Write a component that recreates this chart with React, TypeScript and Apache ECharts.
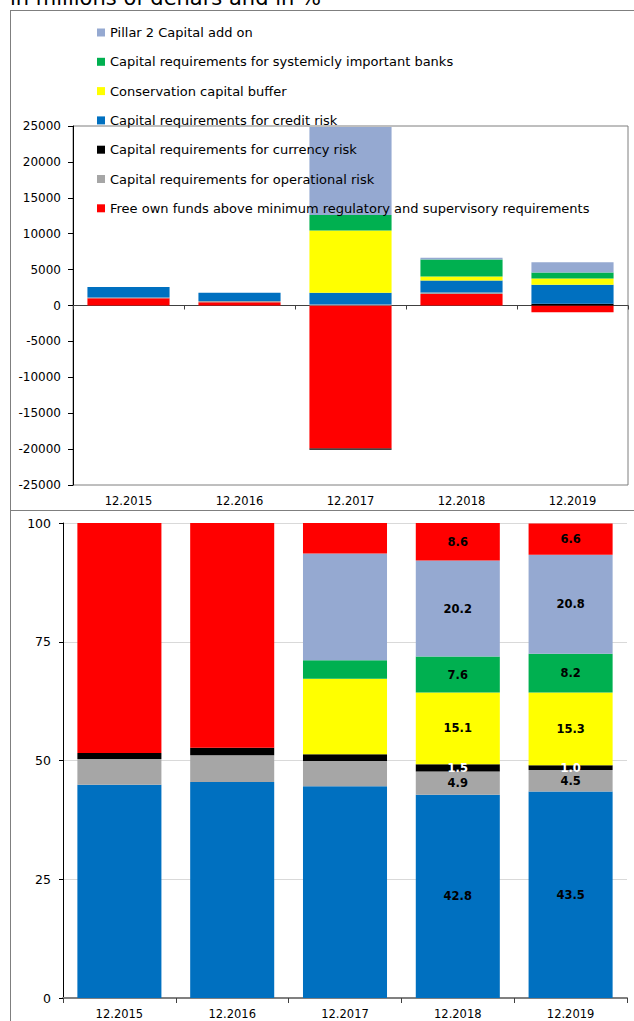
import React, { useEffect, useRef } from 'react';
import * as echarts from 'echarts';

// Categories
const categories = ['12.2015', '12.2016', '12.2017', '12.2018', '12.2019'];

// Series names
const nPillar2 = 'Pillar 2 Capital add on';
const nSystemic = 'Capital requirements for systemicly important banks';
const nConservation = 'Conservation capital buffer';
const nCredit = 'Capital requirements for credit risk';
const nCurrency = 'Capital requirements for currency risk';
const nOperational = 'Capital requirements for operational risk';
const nFree = 'Free own funds above minimum regulatory and supervisory requirements';

// Top chart: in millions of denars
const freeAbs = [1000, 470, -19900, 1590, -930];
const operationalAbs = [120, 140, 130, 230, 0];
const currencyAbs = [0, 0, -200, 0, 230];
const creditAbs = [1470, 1160, 1640, 1670, 2650];
const conservationAbs = [0, 0, 8680, 560, 880];
const systemicAbs = [0, 0, 2140, 2370, 830];
const pillar2Abs = [0, 0, 12260, 230, 1440];

// Bottom chart: in %
const creditPct = [44.9, 45.5, 44.6, 42.8, 43.5];
const operationalPct = [5.4, 5.6, 5.3, 4.9, 4.5];
const currencyPct = [1.3, 1.6, 1.4, 1.5, 1.0];
const conservationPct = [0, 0, 15.9, 15.1, 15.3];
const systemicPct = [0, 0, 3.9, 7.6, 8.2];
const pillar2Pct = [0, 0, 22.5, 20.2, 20.8];
const freePct = [48.4, 47.3, 6.4, 8.6, 6.6];

// Tick settings
const absMin = -25000;
const absMax = 25000;
const absInterval = 5000;
const pctMin = 0;
const pctMax = 100;
const pctInterval = 25;
const labeledFrom = 3; // labels shown for 12.2018 and 12.2019

const colors: Record<string, string> = {
  [nPillar2]: '#95A9D1',
  [nSystemic]: '#00B050',
  [nConservation]: '#FFFF00',
  [nCredit]: '#0070C0',
  [nCurrency]: '#000000',
  [nOperational]: '#A6A6A6',
  [nFree]: '#FF0000',
};

const FONT = 'DejaVu Sans';

export default function App() {
  const ref = useRef<HTMLDivElement>(null);

  useEffect(() => {
    const chart = echarts.init(ref.current!, null, { renderer: 'svg' });

    const topSeries = [
      [nFree, freeAbs],
      [nOperational, operationalAbs],
      [nCurrency, currencyAbs],
      [nCredit, creditAbs],
      [nConservation, conservationAbs],
      [nSystemic, systemicAbs],
      [nPillar2, pillar2Abs],
    ].map(([name, data]) => ({
      name: name as string,
      type: 'bar',
      stack: 'abs',
      xAxisIndex: 0,
      yAxisIndex: 0,
      barWidth: '74%',
      itemStyle: { color: colors[name as string] },
      data: data as number[],
    }));

    const bottomSeries = [
      [nCredit, creditPct],
      [nOperational, operationalPct],
      [nCurrency, currencyPct],
      [nConservation, conservationPct],
      [nSystemic, systemicPct],
      [nPillar2, pillar2Pct],
      [nFree, freePct],
    ].map(([name, data]) => ({
      name: name as string,
      type: 'bar',
      stack: 'pct',
      xAxisIndex: 2,
      yAxisIndex: 1,
      barWidth: '74.5%',
      itemStyle: { color: colors[name as string] },
      label: {
        show: false,
        position: 'inside',
        fontFamily: FONT,
        fontWeight: 'bold',
        fontSize: 11.5,
        color: name === nCurrency ? '#FFFFFF' : '#000000',
        formatter: (p: any) => Number(p.value).toFixed(1),
      },
      data: (data as number[]).map((v, i) => ({ value: v, label: { show: i >= labeledFrom } })),
    }));

    const option: any = {
      animation: false,
      backgroundColor: '#FFFFFF',
      textStyle: { fontFamily: FONT },
      legend: {
        orient: 'vertical',
        left: 97,
        top: 25,
        padding: 0,
        itemWidth: 8,
        itemHeight: 8,
        itemGap: 14.3,
        icon: 'rect',
        selectedMode: false,
        textStyle: { fontFamily: FONT, fontSize: 13, color: '#000', lineHeight: 15 },
        data: [nPillar2, nSystemic, nConservation, nCredit, nCurrency, nOperational, nFree],
      },
      grid: [
        { left: 73, top: 126, width: 555, height: 359, show: true, borderColor: '#7F7F7F', borderWidth: 1 },
        { left: 63, top: 523, width: 564, height: 475 },
      ],
      xAxis: [
        {
          gridIndex: 0,
          type: 'category',
          data: categories,
          position: 'bottom',
          axisLine: { onZero: true, lineStyle: { color: '#404040', width: 1 } },
          axisTick: { show: true, length: 4, lineStyle: { color: '#404040' } },
          axisLabel: { show: false },
        },
        {
          gridIndex: 0,
          type: 'category',
          data: categories,
          position: 'bottom',
          axisLine: { show: false, onZero: false },
          axisTick: { show: false },
          axisLabel: { show: true, margin: 10, fontSize: 11.5, color: '#000', fontFamily: FONT },
        },
        {
          gridIndex: 1,
          type: 'category',
          data: categories,
          position: 'bottom',
          axisLine: { onZero: false, lineStyle: { color: '#808080', width: 2 } },
          axisTick: { show: true, length: 5, lineStyle: { color: '#404040' } },
          axisLabel: { show: true, margin: 10, fontSize: 11.5, color: '#000', fontFamily: FONT },
        },
      ],
      yAxis: [
        {
          gridIndex: 0,
          type: 'value',
          min: absMin,
          max: absMax,
          interval: absInterval,
          axisLine: { show: true, lineStyle: { color: '#000' } },
          axisTick: { show: true, length: 5, lineStyle: { color: '#000' } },
          axisLabel: {
            margin: 12,
            fontSize: 12,
            color: '#000',
            fontFamily: FONT,
            formatter: (v: number) => String(v),
          },
          splitLine: { show: false },
        },
        {
          gridIndex: 1,
          type: 'value',
          min: pctMin,
          max: pctMax,
          interval: pctInterval,
          axisLine: { show: true, lineStyle: { color: '#000' } },
          axisTick: { show: true, length: 4, lineStyle: { color: '#000' } },
          axisLabel: {
            margin: 12,
            fontSize: 12.5,
            color: '#000',
            fontFamily: FONT,
            formatter: (v: number) => String(v),
          },
          splitLine: { show: true, lineStyle: { color: '#D9D9D9', width: 1 } },
        },
      ],
      graphic: [
        {
          type: 'text',
          x: 10,
          y: -2,
          style: {
            text: 'in millions of denars and in %',
            fontFamily: FONT,
            fontSize: 21,
            fill: '#000',
            verticalAlign: 'middle',
          },
        },
        { type: 'line', shape: { x1: 10, y1: 10.5, x2: 634, y2: 10.5 }, style: { stroke: '#7F7F7F', lineWidth: 1 } },
        { type: 'line', shape: { x1: 10.5, y1: 10, x2: 10.5, y2: 1021 }, style: { stroke: '#7F7F7F', lineWidth: 1 } },
        { type: 'line', shape: { x1: 10, y1: 510.5, x2: 634, y2: 510.5 }, style: { stroke: '#7F7F7F', lineWidth: 1 } },
      ],
      series: [...topSeries, ...bottomSeries],
    };

    chart.setOption(option);
    return () => chart.dispose();
  }, []);

  return (
    <div
      ref={ref}
      style={{ position: 'absolute', left: 0, top: 0, width: 634, height: 1021 }}
    />
  );
}
